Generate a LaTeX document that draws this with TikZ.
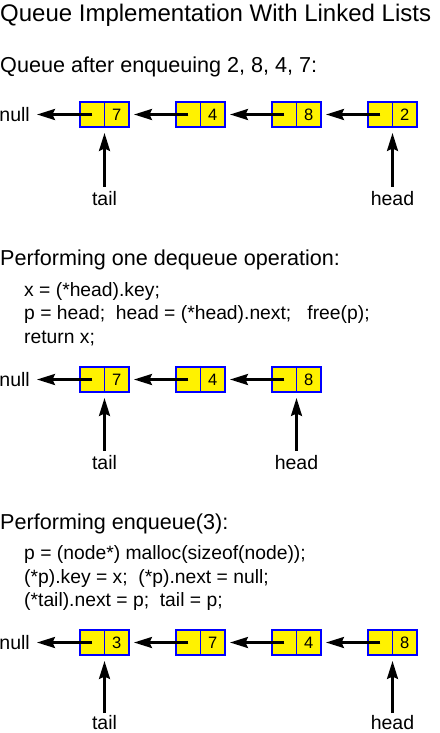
\documentclass[tikz,border=0pt]{standalone}
\usepackage{fontspec}
\setmainfont{Liberation Sans}
\usetikzlibrary{arrows.meta}
\tikzset{
  cellbox/.style={draw=blue, line width=2pt, fill=yellow, minimum width=49pt, minimum height=25pt, inner sep=0pt},
  divider/.style={draw=blue, line width=1pt},
  digit/.style={inner sep=0pt, font=\fontsize{16.5}{16.5}\selectfont},
  ptr/.style={line width=2.6pt, -{Stealth[length=18pt,width=11pt,inset=2.5pt]}},
  titletext/.style={anchor=base west, inner sep=0pt, font=\fontsize{24}{24}\selectfont},
  headtext/.style={anchor=base west, inner sep=0pt, font=\fontsize{21.6}{21.6}\selectfont},
  codetext/.style={anchor=base west, inner sep=0pt, font=\fontsize{19.3}{19.3}\selectfont},
  lbl/.style={anchor=base, inner sep=0pt, font=\fontsize{19.5}{19.5}\selectfont},
  nulltext/.style={anchor=east, inner sep=0pt, font=\fontsize{19.5}{19.5}\selectfont},
}
\newcommand{\qcell}[4]{% name, x center, y center, value
  \node[cellbox] (#1) at (#2,#3) {};
  \draw[divider] (#1.north) -- (#1.south);
  \node[digit] (#1v) at ([xshift=12.25pt]#1.center) {#4};
}
\begin{document}
\begin{tikzpicture}[x=1pt,y=-1pt]
\useasboundingbox (0,0) rectangle (439,733);

% Title and section 1
\node[titletext] (title) at (0,22) {Queue Implementation With Linked Lists};
\node[headtext] (h1) at (0,73) {Queue after enqueuing 2, 8, 4, 7:};

% Row 1
\node[nulltext] (n1) at (30,114.5) {null};
\qcell{a1}{104.5}{114.5}{7}
\qcell{a2}{200.5}{114.5}{4}
\qcell{a3}{296.5}{114.5}{8}
\qcell{a4}{392.5}{114.5}{2}
\draw[ptr] ([xshift=-12.25pt]a1.center) -- ([xshift=7pt]n1.east);
\draw[ptr] ([xshift=-12.25pt]a2.center) -- ([xshift=4pt]a1.east);
\draw[ptr] ([xshift=-12.25pt]a3.center) -- ([xshift=4pt]a2.east);
\draw[ptr] ([xshift=-12.25pt]a4.center) -- ([xshift=4pt]a3.east);
\node[lbl] (t1) at (104.5,205) {tail};
\node[lbl] (hd1) at (392.5,205) {head};
\draw[ptr] ([yshift=4pt]t1.north) -- ([yshift=-5pt]a1.south);
\draw[ptr] ([yshift=4pt]hd1.north) -- ([yshift=-5pt]a4.south);

% Section 2
\node[headtext] (h2) at (0,265) {Performing one dequeue operation:};
\node[codetext] (c21) at (24,296) {x = (*head).key;};
\node[codetext] (c22) at (24,319) {p = head;\ \ head = (*head).next;\ \ \ free(p);};
\node[codetext] (c23) at (24,343) {return x;};

% Row 2
\node[nulltext] (n2) at (30,379.5) {null};
\qcell{b1}{104.5}{379.5}{7}
\qcell{b2}{200.5}{379.5}{4}
\qcell{b3}{296.5}{379.5}{8}
\draw[ptr] ([xshift=-12.25pt]b1.center) -- ([xshift=7pt]n2.east);
\draw[ptr] ([xshift=-12.25pt]b2.center) -- ([xshift=4pt]b1.east);
\draw[ptr] ([xshift=-12.25pt]b3.center) -- ([xshift=4pt]b2.east);
\node[lbl] (t2) at (104.5,469) {tail};
\node[lbl] (hd2) at (296.5,469) {head};
\draw[ptr] ([yshift=4pt]t2.north) -- ([yshift=-5pt]b1.south);
\draw[ptr] ([yshift=4pt]hd2.north) -- ([yshift=-5pt]b3.south);

% Section 3
\node[headtext] (h3) at (0,529) {Performing enqueue(3):};
\node[codetext] (c31) at (24,559) {p = (node*) malloc(sizeof(node));};
\node[codetext] (c32) at (24,583) {(*p).key = x;\ \ (*p).next = null;};
\node[codetext] (c33) at (24,606) {(*tail).next = p;\ \ tail = p;};

% Row 3
\node[nulltext] (n3) at (30,642.5) {null};
\qcell{d1}{104.5}{642.5}{3}
\qcell{d2}{200.5}{642.5}{7}
\qcell{d3}{296.5}{642.5}{4}
\qcell{d4}{392.5}{642.5}{8}
\draw[ptr] ([xshift=-12.25pt]d1.center) -- ([xshift=7pt]n3.east);
\draw[ptr] ([xshift=-12.25pt]d2.center) -- ([xshift=4pt]d1.east);
\draw[ptr] ([xshift=-12.25pt]d3.center) -- ([xshift=4pt]d2.east);
\draw[ptr] ([xshift=-12.25pt]d4.center) -- ([xshift=4pt]d3.east);
\node[lbl] (t3) at (104.5,729.5) {tail};
\node[lbl] (hd3) at (392.5,729.5) {head};
\draw[ptr] ([yshift=2pt]t3.north) -- ([yshift=-5pt]d1.south);
\draw[ptr] ([yshift=2pt]hd3.north) -- ([yshift=-5pt]d4.south);
\end{tikzpicture}
\end{document}
